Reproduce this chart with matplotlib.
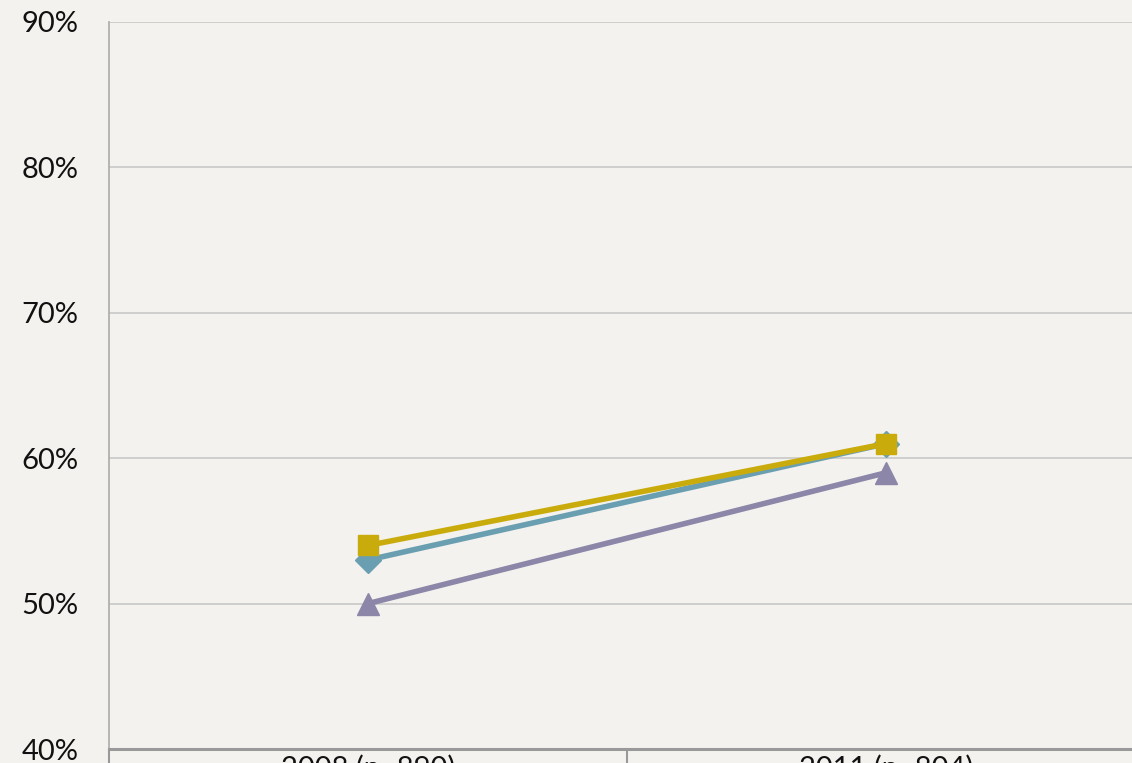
import matplotlib
matplotlib.use("Agg")
import matplotlib.pyplot as plt
from matplotlib.ticker import FixedLocator, PercentFormatter

categories = ["2008 (n=890)", "2011 (n=804)"]
series_purple = [50, 59]
series_teal = [53, 61]
series_yellow = [54, 61]
y_ticks = [40, 50, 60, 70, 80, 90]

plt.rcParams['font.family'] = ['Lato', 'DejaVu Sans']

fig = plt.figure(figsize=(11.32, 7.63), dpi=100)
bg = "#F4F2EF"
fig.patch.set_facecolor(bg)
ax = fig.add_axes([109/1132, 1 - 749/763, (1145-109)/1132, (749-22)/763])
ax.set_facecolor(bg)

x = [0.5, 1.5]
ax.plot(x, series_purple, color="#8C86A8", lw=4, marker="^", ms=16, zorder=3)
ax.plot(x, series_teal, color="#6A9FB1", lw=4, marker="D", ms=13, zorder=4)
ax.plot(x, series_yellow, color="#C9AC0C", lw=4, marker="s", ms=15, zorder=5)

ax.set_xlim(0, 2)
ax.set_ylim(40, 90)
ax.set_yticks(y_ticks)
ax.yaxis.set_major_formatter(PercentFormatter(decimals=0))
ax.grid(axis="y", color="#C8C8C8", lw=1.2)
ax.set_axisbelow(True)

ax.set_xticks(x)
ax.set_xticklabels(categories)
ax.xaxis.set_minor_locator(FixedLocator([0, 1, 2]))
ax.tick_params(axis="x", which="major", length=0, pad=4, labelsize=21)
ax.tick_params(axis="x", which="minor", length=16, width=1.5, color="#999999")
ax.tick_params(axis="y", length=0, pad=22, labelsize=21)
for lab in ax.get_yticklabels() + ax.get_xticklabels():
    lab.set_color("#111111")

for s in ["top", "right"]:
    ax.spines[s].set_visible(False)
ax.spines["left"].set_color("#AAAAAA")
ax.spines["left"].set_linewidth(1.2)
ax.spines["bottom"].set_color("#999999")
ax.spines["bottom"].set_linewidth(2.2)

fig.savefig("out.png", dpi=100, facecolor=bg)
